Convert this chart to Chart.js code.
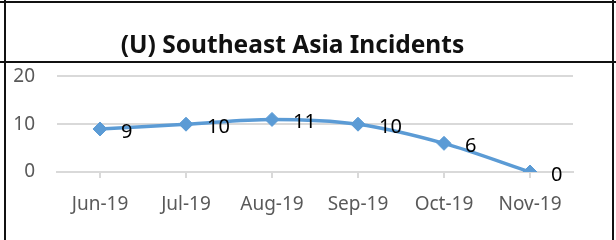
<!DOCTYPE html>
<html>
<head>
<meta charset="utf-8">
<script src="https://cdn.jsdelivr.net/npm/chart.js@4"></script>
<style>
  html, body { margin: 0; padding: 0; background: #fff; }
  #wrap { position: relative; width: 616px; height: 240px; overflow: hidden; }
  .ln { position: absolute; background: #111; }
</style>
</head>
<body>
<div id="wrap">
  <canvas id="incidentChart" width="616" height="240"></canvas>
  <!-- table borders around the chart -->
  <div class="ln" style="left:0;top:1px;width:616px;height:2px"></div>
  <div class="ln" style="left:4px;top:0;width:2px;height:240px"></div>
  <div class="ln" style="left:0;top:61px;width:616px;height:2px"></div>
  <div class="ln" style="left:612px;top:0;width:2px;height:240px"></div>
</div>
<script>
// Chart data
const months = ["Jun-19", "Jul-19", "Aug-19", "Sep-19", "Oct-19", "Nov-19"];
const incidents = [9, 10, 11, 10, 6, 0];
const yTicks = [0, 10, 20];

const blue = "#5b9bd5";

// Draw value labels to the right of each point
const valueLabels = {
    id: "valueLabels",
    afterDatasetsDraw(chart) {
        const ctx = chart.ctx;
        const meta = chart.getDatasetMeta(0);
        ctx.save();
        ctx.fillStyle = "#000";
        ctx.font = "20px 'Noto Sans'";
        ctx.textAlign = "left";
        ctx.textBaseline = "middle";
        meta.data.forEach((pt, i) => {
            ctx.fillText(String(incidents[i]), pt.x + 21, pt.y + 3);
        });
        ctx.restore();
    }
};

new Chart(document.getElementById("incidentChart"), {
    type: "line",
    data: {
        labels: months,
        datasets: [{
            data: incidents,
            borderColor: blue,
            backgroundColor: blue,
            borderWidth: 3.5,
            cubicInterpolationMode: "monotone",
            pointStyle: "rectRot",
            pointRadius: 7,
            pointBorderWidth: 1
        }]
    },
    options: {
        responsive: false,
        animation: false,
        layout: { padding: { left: 12, right: 43, bottom: 0, top: 0 } },
        plugins: {
            legend: { display: false },
            tooltip: { enabled: false },
            title: {
                display: true,
                text: "(U) Southeast Asia Incidents",
                color: "#111",
                font: { family: "'Noto Sans'", size: 24.5, weight: "bold" },
                padding: { top: 31, bottom: 16 }
            }
        },
        scales: {
            y: {
                min: 0,
                max: 20,
                afterBuildTicks(axis) { axis.ticks = yTicks.map(v => ({ value: v })); },
                afterFit(axis) { axis.width = 45; },
                border: { display: false },
                grid: { color: "#d9d9d9", lineWidth: 2, drawTicks: false },
                ticks: {
                    color: "#595959",
                    padding: 22,
                    font: { family: "'Noto Sans'", size: 19 }
                }
            },
            x: {
                offset: true,
                afterFit(axis) { axis.height = 68; axis.paddingLeft = 0; axis.paddingRight = 0; },
                border: { color: "#d9d9d9", width: 2 },
                grid: { color: "#d9d9d9", drawOnChartArea: false, tickLength: 6, lineWidth: 2 },
                ticks: {
                    color: "#595959",
                    padding: 15,
                    maxRotation: 0,
                    font: { family: "'Noto Sans'", size: 19 }
                }
            }
        }
    },
    plugins: [valueLabels]
});
</script>
</body>
</html>
